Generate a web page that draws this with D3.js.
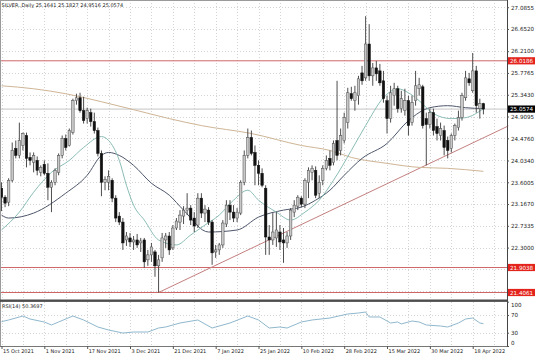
<!DOCTYPE html>
<html><head><meta charset="utf-8">
<script src="https://cdn.jsdelivr.net/npm/d3@7/dist/d3.min.js"></script>
<style>
body{margin:0;background:#fff}
svg{display:block}
text{font-family:"DejaVu Sans",sans-serif}
</style></head>
<body><svg id="c" width="536" height="357"></svg>
<script>
// ---------- data ----------
const title = "SILVER.,Daily  25.1641 25.1827 24.9516 25.0574";
const rsiTitle = "RSI(14) 50.3697";
const dateLabels = ["15 Oct 2021","1 Nov 2021","17 Nov 2021","3 Dec 2021","21 Dec 2021","7 Jan 2022","25 Jan 2022","10 Feb 2022","28 Feb 2022","15 Mar 2022","30 Mar 2022","18 Apr 2022"];
const dateBars = [0,12,24,36,48,60,72,84,96,108,120,132];
const priceTicks = [27.0855,26.6520,26.2100,25.7765,25.3430,24.9095,24.4760,24.0340,23.6005,23.1670,22.7335,22.3000];
const hiddenGrid = [21.8665,21.4330];
const levelLines = [26.0186,21.9038,21.4061];
const lastPrice = 25.0574;
const rsiTicks = [100,70,30,0];
const rsiLevels = [70,30];

const opens = [23.482,23.303,23.204,23.640,24.274,24.135,24.333,24.531,24.095,23.996,
24.036,23.798,23.957,23.779,23.501,23.600,23.798,24.135,24.472,24.333,
24.590,25.224,25.283,25.026,24.868,24.986,24.808,24.630,24.175,23.600,
23.600,23.640,23.284,22.927,22.808,22.452,22.492,22.412,22.452,22.393,
22.452,22.056,22.155,22.214,21.937,22.096,22.452,22.531,22.294,22.690,
22.808,22.927,23.046,23.086,22.888,22.749,23.284,22.987,23.046,22.808,
22.214,22.254,22.353,22.769,23.145,23.006,22.888,22.987,23.600,24.135,
24.491,24.194,23.937,23.779,23.482,22.511,22.452,22.492,22.610,22.452,
22.393,22.531,23.006,23.125,23.284,23.165,23.600,23.798,23.838,23.383,
23.640,23.878,24.076,23.996,24.432,24.234,24.432,24.788,25.363,25.224,
25.323,25.778,25.679,26.353,25.719,25.877,25.818,25.620,25.224,24.868,
25.323,25.462,25.066,25.026,25.224,24.788,25.224,25.462,25.501,24.868,
24.749,24.986,24.709,24.531,24.630,24.432,24.274,24.531,24.689,24.887,
25.283,25.660,25.422,25.818,25.066,25.1641];
const highs = [23.600,23.343,23.680,24.392,24.432,24.788,24.590,24.590,24.194,24.194,
24.115,23.937,24.036,23.977,23.640,23.878,24.175,24.531,24.551,24.670,
25.264,25.363,25.382,25.303,25.085,25.066,24.986,24.689,24.234,23.719,
23.838,23.680,23.343,23.006,22.888,22.610,22.591,22.531,22.571,22.492,
22.492,22.254,22.393,22.254,22.155,22.591,22.591,22.610,22.749,22.888,
23.046,23.125,23.383,23.145,23.006,23.383,23.383,23.145,23.106,22.848,
22.353,22.393,22.848,23.244,23.244,23.145,23.086,23.640,24.234,24.670,
24.630,24.333,24.036,23.878,23.541,22.749,22.987,23.006,22.749,22.690,
22.610,23.086,23.244,23.343,23.323,23.680,23.897,23.937,23.917,23.739,
23.937,24.135,24.234,24.432,25.620,24.670,24.986,25.481,25.501,25.521,
25.719,25.917,26.907,26.749,25.976,26.016,25.957,25.818,25.323,25.521,
25.580,25.521,25.422,25.462,25.323,25.323,25.818,25.679,25.541,24.986,
25.066,25.066,24.868,24.788,24.729,24.511,24.571,24.769,25.026,25.382,
25.818,25.778,26.174,25.917,25.264,25.1827];
const lows = [23.026,23.105,23.125,23.600,24.076,24.076,24.234,23.897,23.937,23.798,
23.739,23.719,23.739,23.244,23.006,23.541,23.739,24.076,24.234,24.313,
24.551,25.145,24.986,24.769,24.769,24.709,24.571,24.115,23.323,23.442,
23.442,23.204,22.808,22.749,22.254,22.333,22.313,22.254,22.294,22.214,
21.898,21.937,22.016,21.719,21.406,22.016,22.294,22.155,22.254,22.650,
22.650,22.769,22.947,22.749,22.610,22.690,22.888,22.808,22.749,21.957,
22.096,22.155,22.294,22.709,22.848,22.808,22.808,22.947,23.541,24.076,
24.135,23.541,23.541,23.501,22.155,22.155,22.353,22.313,22.254,21.997,
22.294,22.452,22.907,23.046,23.105,23.086,23.284,23.640,23.284,23.284,
23.541,23.838,23.838,23.937,24.036,24.135,24.373,24.670,25.224,25.026,
25.145,25.541,25.620,25.620,25.521,25.620,25.521,25.184,24.571,24.788,
25.125,24.986,24.986,24.927,24.531,24.729,25.125,25.323,24.670,23.937,
24.670,24.531,24.432,24.432,24.135,24.076,24.194,24.432,24.630,24.828,
25.224,25.521,25.382,24.986,24.868,24.9516];
const closes = [23.303,23.185,23.640,24.234,24.135,24.432,24.571,24.076,24.036,24.135,
23.838,23.897,23.779,23.501,23.600,23.838,24.135,24.472,24.293,24.630,
25.224,25.283,25.026,24.828,25.026,24.808,24.630,24.175,23.600,23.660,
23.719,23.284,22.888,22.808,22.393,22.531,22.412,22.452,22.353,22.432,
22.016,22.155,22.313,21.937,22.056,22.492,22.531,22.254,22.690,22.828,
22.947,23.046,23.086,22.848,22.729,23.284,22.987,23.066,22.808,22.195,
22.254,22.353,22.789,23.145,23.006,22.888,23.006,23.600,24.135,24.491,
24.175,23.937,23.779,23.541,22.511,22.452,22.610,22.650,22.412,22.393,
22.531,23.046,23.145,23.303,23.165,23.640,23.838,23.878,23.343,23.600,
23.878,24.036,23.937,24.373,24.135,24.531,24.887,25.382,25.264,25.382,
25.660,25.620,26.353,25.719,25.877,25.759,25.580,25.264,24.868,25.382,
25.462,25.066,25.264,25.224,24.729,25.184,25.521,25.541,24.729,24.749,
24.986,24.630,24.571,24.670,24.293,24.234,24.531,24.729,24.887,25.323,
25.679,25.580,25.818,25.125,25.165,25.0574];

// moving averages: [bar, value]
const maFast = [[0,22.650],[5,23.006],[9,23.402],[14,23.798],[19,24.036],[23,24.293],[28,24.511],[30,24.432],[33,24.036],[35,23.541],[37,23.145],[40,22.848],[44,22.452],[49,22.353],[53,22.551],[57,22.749],[61,22.947],[65,23.244],[69,23.442],[72,23.244],[77,23.006],[81,22.848],[85,23.006],[89,23.244],[93,23.640],[98,24.234],[102,24.729],[107,25.283],[111,25.462],[114,25.382],[117,25.224],[121,24.967],[126,24.868],[130,24.887],[135,25.066]];
const maSlow = [[0,22.947],[2,22.888],[9,22.987],[18,23.383],[24,23.739],[28,24.135],[30,24.194],[33,24.135],[37,23.937],[42,23.581],[47,23.343],[51,23.046],[58,22.610],[66,22.650],[72,22.907],[79,23.046],[84,23.106],[88,23.244],[92,23.442],[96,23.739],[101,24.076],[108,24.373],[114,24.828],[120,25.085],[125,25.125],[130,25.085],[135,25.066]];
const maLong = [[0,25.521],[9,25.462],[18,25.363],[28,25.204],[37,25.046],[47,24.868],[56,24.729],[70,24.571],[84,24.333],[92,24.234],[98,24.095],[108,23.977],[117,23.897],[125,23.878],[135,23.818]];
const trendLine = [[44,21.4061],[142,24.722]];
const rsi = [[0,54.9],[2,58.7],[6,67.7],[8,60.9],[12,54.2],[14,47.4],[16,54.2],[20,67.7],[23,58.7],[27,42.9],[30,36.1],[34,29.3],[37,31.6],[41,31.6],[44,40.6],[46,42.9],[50,51.9],[55,58.7],[59,40.6],[64,51.9],[69,67.7],[72,58.7],[75,40.6],[78,42.9],[80,40.6],[84,54.2],[87,58.7],[92,63.2],[97,72.2],[100,74.5],[102,76.7],[103,65.5],[106,65.5],[109,51.9],[111,54.2],[112,49.7],[115,56.4],[117,54.2],[119,47.4],[123,45.1],[125,42.9],[128,51.9],[130,60.9],[132,63.2],[134,51.9],[135,50.37]];

// ---------- layout ----------
const svg = d3.select("#c");
const PR = 507, MAIN_BOT = 299.5, RSI_TOP = 302, RSI_BOT = 346;
const x = d3.scaleLinear().domain([0,142]).range([1.5,508.4]);
const y = d3.scaleLinear().domain([21.4061,26.0186]).range([292.5,60.8]);
const yr = d3.scaleLinear().domain([0,100]).range([346,301.7]);
const N = opens.length;

svg.append("rect").attr("width",536).attr("height",357).attr("fill","#fff");

// grid
const grid = svg.append("g").attr("stroke","#c9c9c9").attr("stroke-width",0.8).attr("stroke-dasharray","1,2");
grid.selectAll(".gh").data(priceTicks.concat(hiddenGrid)).join("line")
  .attr("x1",0).attr("x2",PR).attr("y1",d=>Math.round(y(d))+0.5).attr("y2",d=>Math.round(y(d))+0.5);
const vgrid = d3.range(0,142,6);
grid.selectAll(".gv").data(vgrid).join("line")
  .attr("x1",d=>Math.round(x(d))+0.5).attr("x2",d=>Math.round(x(d))+0.5).attr("y1",0).attr("y2",MAIN_BOT);
grid.selectAll(".gv2").data(vgrid).join("line")
  .attr("x1",d=>Math.round(x(d))+0.5).attr("x2",d=>Math.round(x(d))+0.5).attr("y1",RSI_TOP).attr("y2",RSI_BOT);
grid.selectAll(".gr").data(rsiLevels).join("line")
  .attr("x1",0).attr("x2",PR).attr("y1",d=>Math.round(yr(d))+0.5).attr("y2",d=>Math.round(yr(d))+0.5);

// bid line
svg.append("line").attr("x1",0).attr("x2",PR).attr("y1",y(lastPrice)).attr("y2",y(lastPrice))
  .attr("stroke","#c4c4c4").attr("stroke-width",1);

// level lines
svg.append("g").selectAll("line").data(levelLines).join("line")
  .attr("x1",0).attr("x2",PR).attr("y1",d=>y(d)).attr("y2",d=>y(d))
  .attr("stroke","#cf6767").attr("stroke-width",1);

// trend line
svg.append("line").attr("x1",x(trendLine[0][0])).attr("y1",y(trendLine[0][1]))
  .attr("x2",x(trendLine[1][0])).attr("y2",y(trendLine[1][1]))
  .attr("stroke","#c47f7f").attr("stroke-width",1);

// moving averages
const line = d3.line().x(d=>x(d[0])).y(d=>y(d[1])).curve(d3.curveMonotoneX);
svg.append("path").attr("d",line(maLong)).attr("fill","none").attr("stroke","#cfb596").attr("stroke-width",1);
svg.append("path").attr("d",line(maSlow)).attr("fill","none").attr("stroke","#4d566a").attr("stroke-width",1);
svg.append("path").attr("d",line(maFast)).attr("fill","none").attr("stroke","#8bbdb5").attr("stroke-width",1);

// candles
const cg = svg.append("g");
const idx = d3.range(N);
cg.selectAll("line").data(idx).join("line")
  .attr("x1",i=>x(i)).attr("x2",i=>x(i))
  .attr("y1",i=>y(highs[i])).attr("y2",i=>y(lows[i]))
  .attr("stroke","#3a3a3a").attr("stroke-width",0.9);
const bw = 2.5;
cg.selectAll("rect").data(idx).join("rect")
  .attr("x",i=>x(i)-bw/2).attr("width",bw)
  .attr("y",i=>y(Math.max(opens[i],closes[i])))
  .attr("height",i=>Math.max(0.8,Math.abs(y(opens[i])-y(closes[i]))))
  .attr("fill",i=>closes[i]>=opens[i]?"#c8c8c8":"#111")
  .attr("stroke",i=>closes[i]>=opens[i]?"#4a4a4a":"#111")
  .attr("stroke-width",0.5);

// RSI line
const rline = d3.line().x(d=>x(d[0])).y(d=>yr(d[1]));
svg.append("path").attr("d",rline(rsi)).attr("fill","none").attr("stroke","#8fb8cd").attr("stroke-width",1);

// frame
const fr = svg.append("g").attr("fill","none");
fr.append("line").attr("x1",0).attr("x2",PR).attr("y1",0.5).attr("y2",0.5).attr("stroke","#9a9a9a");
fr.append("line").attr("x1",0.5).attr("x2",0.5).attr("y1",0).attr("y2",RSI_BOT).attr("stroke","#9a9a9a");
fr.append("line").attr("x1",PR+0.5).attr("x2",PR+0.5).attr("y1",0).attr("y2",RSI_BOT+1).attr("stroke","#444");
svg.append("rect").attr("x",0).attr("y",MAIN_BOT).attr("width",PR).attr("height",2.4).attr("fill","#4d4d4d");
fr.append("line").attr("x1",0).attr("x2",PR).attr("y1",RSI_BOT+0.5).attr("y2",RSI_BOT+0.5).attr("stroke","#777");

// price axis
const pa = svg.append("g").attr("transform",`translate(${PR},0)`)
  .call(d3.axisRight(y).tickValues(priceTicks).tickFormat(d3.format(".4f")).tickSize(2).tickPadding(2));
pa.select(".domain").remove();
pa.selectAll("line").attr("stroke","#555");
pa.selectAll("text").attr("font-size","5.6px").attr("fill","#222").attr("font-family","DejaVu Sans");

// label boxes
const boxes = levelLines.map(v=>({v,bg:"#e3231c"})).concat([{v:lastPrice,bg:"#000"}]);
const bg = svg.append("g");
bg.selectAll("rect").data(boxes).join("rect")
  .attr("x",PR+1).attr("y",d=>y(d.v)-3.6).attr("width",536-PR-2).attr("height",7.2).attr("fill",d=>d.bg);
bg.selectAll("text").data(boxes).join("text")
  .attr("x",PR+3).attr("y",d=>y(d.v)+2.1).attr("font-size","5.6px").attr("fill","#fff")
  .text(d=>d3.format(".4f")(d.v));

// RSI axis
const ra = svg.append("g").attr("transform",`translate(${PR},0)`)
  .call(d3.axisRight(yr).tickValues(rsiTicks).tickSize(2).tickPadding(2));
ra.select(".domain").remove();
ra.selectAll("line").attr("stroke","#555");
ra.selectAll("text").attr("font-size","5.6px").attr("fill","#222").attr("font-family","DejaVu Sans")
  .attr("y",d=>d===100?3.4:(d===0?-3.2:0));

// date axis
const da = svg.append("g").attr("transform",`translate(0,${RSI_BOT})`)
  .call(d3.axisBottom(x).tickValues(dateBars).tickFormat((d,k)=>dateLabels[k]).tickSize(3));
da.select(".domain").remove();
da.selectAll("line").attr("stroke","#555");
da.selectAll("text").attr("font-size","5px").attr("fill","#222").attr("font-family","DejaVu Sans")
  .attr("text-anchor","start").attr("x",1).attr("y",3);

// titles
svg.append("text").attr("x",1.5).attr("y",7.2).attr("font-size","5px").attr("fill","#222").text(title);
svg.append("text").attr("x",2).attr("y",307.8).attr("font-size","5px").attr("fill","#222").text(rsiTitle);
</script>
</body></html>
